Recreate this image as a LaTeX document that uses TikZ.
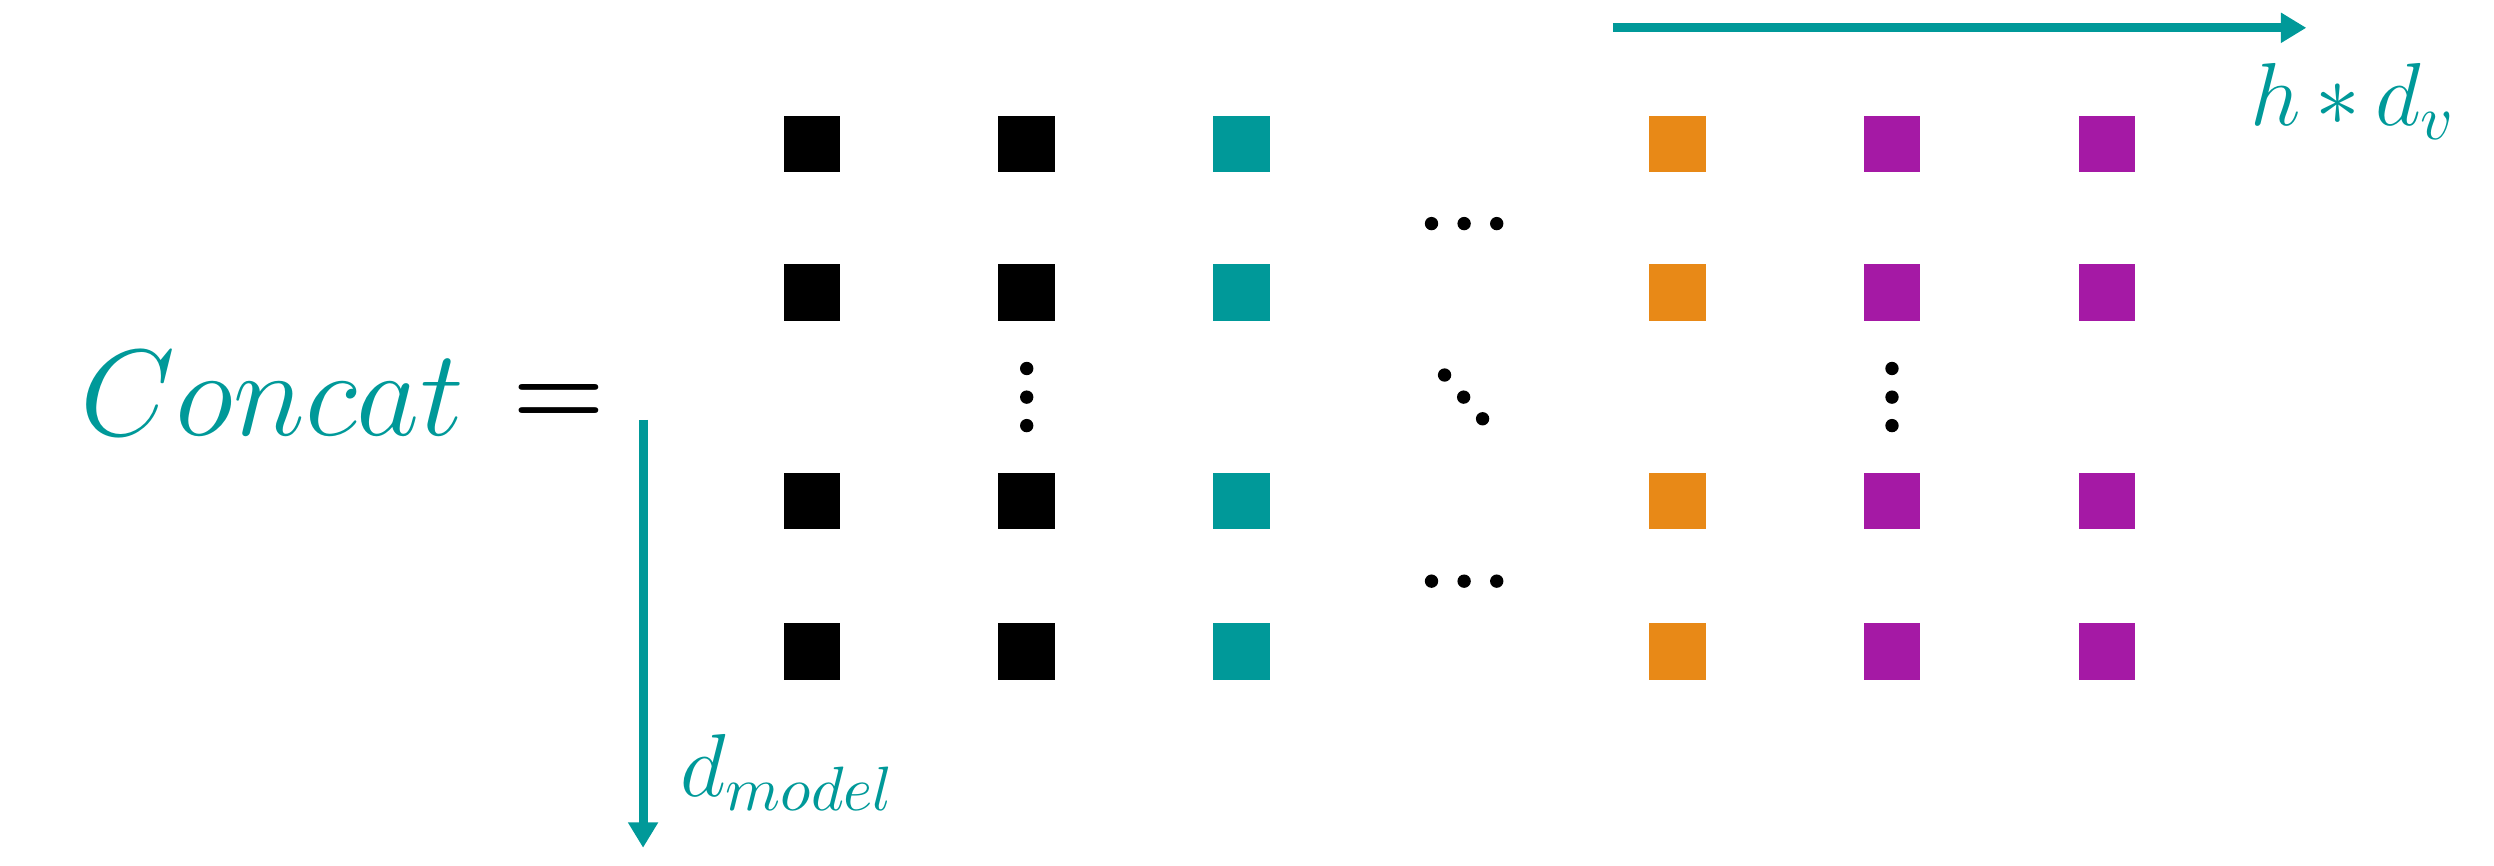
\RequirePackage{fix-cm}
\documentclass[tikz,border=0pt]{standalone}
\usepackage{bm}
\usetikzlibrary{arrows.meta}
\definecolor{tealc}{RGB}{0,153,153}
\definecolor{orangec}{RGB}{232,137,23}
\definecolor{purplec}{RGB}{165,25,165}
\tikzset{
  cell/.style={inner sep=0pt, minimum size=3.55mm},
  dimarrow/.style={draw=tealc, line width=1.6pt, -{Triangle[length=1.6mm,width=1.8mm]}},
  dimlabel/.style={text=tealc, inner sep=0pt, font=\fontsize{16}{19}\selectfont},
  bigtext/.style={inner sep=0pt, anchor=base west, font=\fontsize{22}{26}\selectfont}
}
\begin{document}
\begin{tikzpicture}
%\draw (0,0) grid (16,6);
\useasboundingbox (0,0) rectangle (15.68,5.44);
% left hand side
\node[bigtext, text=tealc] (lhs) at (0.50,2.70) {$Concat$};
\node[bigtext, font=\fontsize{19}{23}\selectfont] (eq) at (3.215,2.763) {$\bm{=}$};
% the heads, side by side
\foreach \i/\x/\c in {1/5.105/black, 2/6.455/black, 3/7.805/tealc, 4/10.545/orangec, 5/11.895/purplec, 6/13.245/purplec}
  \foreach \j/\y in {1/4.535, 2/3.600, 3/2.290, 4/1.345}
    \node[cell, fill=\c] (m\i\j) at (\x,\y) {};
% dots
\foreach \x in {9.00,9.205,9.41} {
  \fill (\x,4.034) circle (0.042);
  \fill (\x,1.786) circle (0.042);
}
\foreach \y in {2.764,2.943,3.123} {
  \fill (6.455,\y) circle (0.042);
  \fill (11.895,\y) circle (0.042);
}
\foreach \x/\y in {9.082/3.082, 9.202/2.943, 9.321/2.807}
  \fill (\x,\y) circle (0.042);
% dimensions
\coordinate (hs) at (10.14,5.265);
\coordinate (he) at (14.50,5.265);
\draw[dimarrow] (hs) -- (he);
\node[dimlabel, anchor=base west] (hlab) at (14.14,4.648) {$h\,{*}\,d_v$};
\coordinate (vs) at (4.043,2.80);
\coordinate (ve) at (4.043,0.11);
\draw[dimarrow] (vs) -- (ve);
\node[dimlabel, anchor=base west] (vlab) at (4.27,0.43) {$d_{model}$};
\end{tikzpicture}
\end{document}
